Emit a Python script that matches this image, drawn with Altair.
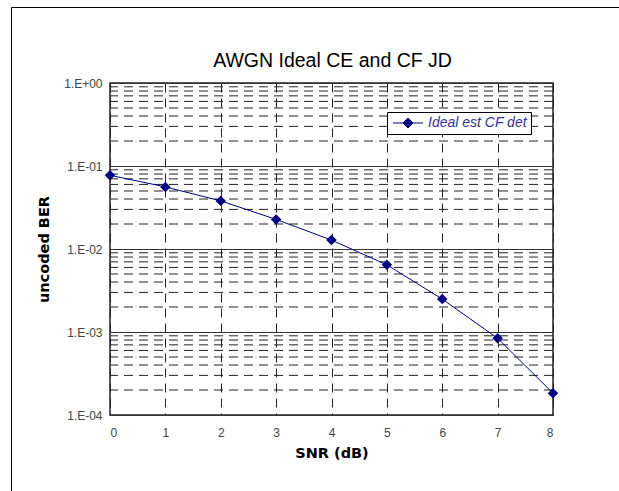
import altair as alt
import pandas as pd

# ---- data ----
snr_db = [0, 1, 2, 3, 4, 5, 6, 7, 8]
uncoded_ber = [0.0774, 0.056, 0.038, 0.0227, 0.0128, 0.00645, 0.00249, 0.00084, 0.000183]
series_name = "Ideal est CF det"
chart_title = "AWGN Ideal CE and CF JD"
x_ticks = [0, 1, 2, 3, 4, 5, 6, 7, 8]
major_ticks = [1, 0.1, 0.01, 0.001, 0.0001]
minor_mult = [2, 3, 4, 5, 6, 7, 8, 9]
decades = [0.1, 0.01, 0.001, 0.0001]
minor_ticks = [m * d for d in decades for m in minor_mult]

df = pd.DataFrame({"snr": snr_db, "ber": uncoded_ber, "series": [series_name] * len(snr_db)})
minor_df = pd.DataFrame({"v": minor_ticks})
one = pd.DataFrame({"k": [0]})

FONT = "Liberation Sans"
TFONT = "DejaVu Sans"
NAVY = "#000080"
PW, PH = 443, 332
PL, PT = 110, 83

y_scale = alt.Scale(type="log", domain=[1e-4, 1], nice=False)
x_scale = alt.Scale(domain=[0, 8], nice=False)

exp_e = "round(log(datum.value)/LN10)"
label_expr = ("'1.E' + (" + exp_e + " >= 0 ? '+' : '-') + (abs(" + exp_e + ") < 10 ? '0' : '') + abs(" + exp_e + ")")

legend_path = "M-3,0L3,0M0,-1L1,0L0,1L-1,0Z"

y_axis = alt.Axis(
    values=major_ticks, title="uncoded BER", grid=True, gridColor="#333333",
    ticks=False, domain=False, labelPadding=8, labelExpr=label_expr, labelFont=FONT,
    labelFontSize=12, labelColor="#444444", titleFont=TFONT, titleFontSize=14.5,
    titleFontWeight="bold", titleColor="black", titlePadding=12)

minor = alt.Chart(minor_df).mark_rule(color="#222222", strokeWidth=1, strokeDash=[9, 6]).encode(
    y=alt.Y("v:Q", scale=y_scale, axis=y_axis, title="uncoded BER")
)

main = alt.Chart(df).mark_line(
    strokeWidth=1,
    point=alt.OverlayMarkDef(shape="diamond", filled=True, size=110, color=NAVY),
).encode(
    x=alt.X("snr:Q", scale=x_scale, axis=alt.Axis(
        values=x_ticks, title="SNR (dB)", grid=True, gridDash=[9, 6], gridColor="#222222",
        ticks=False, domain=False, labelPadding=12, labelFont=FONT, labelFontSize=12,
        labelColor="#444444", titleFont=TFONT, titleFontSize=14.5, titleFontWeight="bold",
        titleColor="black", titlePadding=8, format="d")),
    y=alt.Y("ber:Q", scale=y_scale, axis=y_axis, title="uncoded BER"),
    color=alt.Color("series:N", scale=alt.Scale(range=[NAVY]), legend=alt.Legend(
        title=None, orient="none", legendX=277, legendY=29, strokeColor="black",
        fillColor="white", padding=4, symbolType=legend_path, symbolSize=100,
        symbolStrokeWidth=1, symbolFillColor=NAVY, symbolStrokeColor=NAVY,
        symbolOffset=10, labelOffset=13, labelFont=FONT,
        labelFontSize=14, labelFontStyle="italic", labelColor="#333399")),
)

title_txt = alt.Chart(one).mark_text(
    text=chart_title, font=FONT, fontSize=19.5, color="black", align="center", baseline="middle"
).encode(x=alt.value(PW / 2 + 1), y=alt.value(61 - PT))

border_top = alt.Chart(one).mark_rule(color="black", strokeWidth=1).encode(
    x=alt.value(11.5 - PL), x2=alt.value(640 - PL), y=alt.value(7.5 - PT)
)
border_left = alt.Chart(one).mark_rule(color="black", strokeWidth=1).encode(
    x=alt.value(11.5 - PL), y=alt.value(7.5 - PT), y2=alt.value(510 - PT)
)

chart = alt.layer(minor, main, title_txt, border_top, border_left).properties(
    width=PW, height=PH,
    autosize=alt.AutoSizeParams(type="none"),
    padding={"left": PL, "top": PT, "right": 619 - PL - PW, "bottom": 491 - PT - PH},
    background="white",
).configure_view(stroke="#222222", strokeWidth=1.5)

chart.save("out.html", embed_options={"renderer": "svg", "actions": False})
